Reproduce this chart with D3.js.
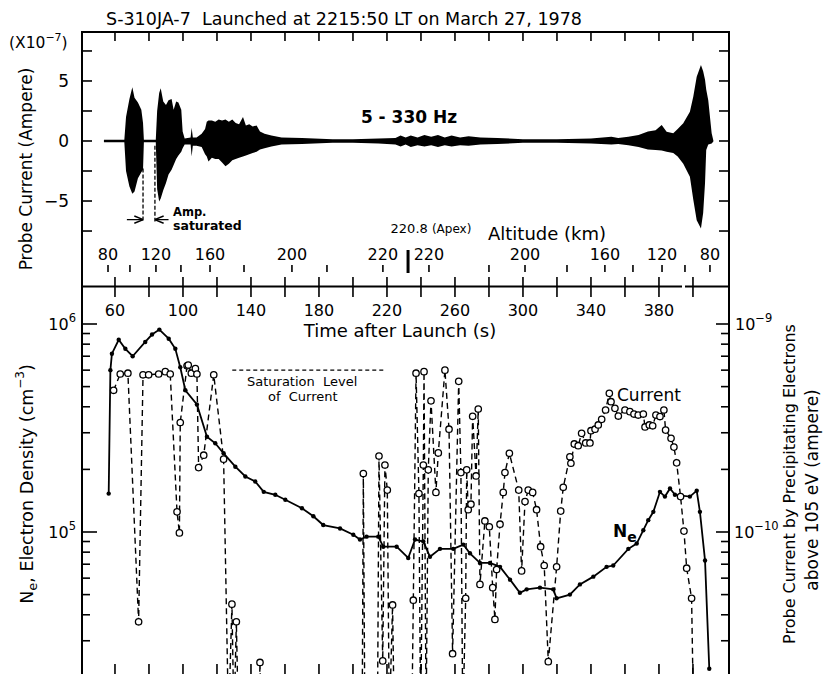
<!DOCTYPE html>
<html>
<head>
<meta charset="utf-8">
<script src="https://cdn.jsdelivr.net/npm/d3@7"></script>
<style>
body { margin: 0; background: #fff; }
text { font-family: "DejaVu Sans", "Liberation Sans", sans-serif; fill: #000; white-space: pre; }
</style>
</head>
<body>
<script>
const width = 823;
const height = 674;

// top panel: envelope of the 5-330 Hz probe current, in units of 1e-7 A
const waveT = [53.5, 65.5, 66.5, 68.5, 70.2, 71.5, 73.5, 75.5, 76.5, 77.0, 84.0, 84.8, 86.0, 86.9, 88.4, 90.0,
  91.5, 93.3, 94.5, 96.0, 97.3, 99.0, 99.8, 101.0, 104.5, 105.1, 105.8, 108.0, 111.0, 113.0, 114.0, 115.0,
  117.0, 119.0, 121.0, 123.0, 125.0, 127.0, 129.0, 131.0, 133.0, 135.3, 137.0, 139.0, 141.0, 143.3, 145.3,
  148.0, 152.0, 158.0, 170.0, 188.0, 200.0, 215.0, 225.0, 228.0, 231.0, 234.0, 238.0, 242.0, 246.0, 250.0,
  254.0, 258.0, 263.0, 268.0, 275.0, 285.0, 300.0, 320.0, 340.0, 352.0, 356.0, 362.0, 368.0, 373.5, 378.0,
  381.6, 384.5, 388.4, 391.0, 394.3, 398.2, 400.2, 402.2, 404.7, 406.0, 407.1, 407.8, 409.0, 411.0, 412.0];
const waveUp = [0.1, 0.1, 2.0, 3.5, 4.47, 3.6, 3.2, 2.6, 1.5, 0.1, 0.1, 2.5, 4.0, 4.39, 3.3, 3.0,
  3.4, 3.5, 2.6, 3.3, 3.2, 2.6, 0.8, 0.2, 0.3, 1.1, 0.3, 0.3, 0.6, 1.0, 1.6, 1.7,
  1.7, 1.6, 1.8, 1.7, 1.8, 1.6, 1.8, 1.5, 1.4, 2.0, 1.3, 1.4, 1.2, 1.3, 0.8,
  0.6, 0.45, 0.3, 0.25, 0.15, 0.15, 0.2, 0.25, 0.45, 0.3, 0.45, 0.3, 0.5, 0.35, 0.5,
  0.3, 0.45, 0.3, 0.4, 0.3, 0.25, 0.15, 0.15, 0.2, 0.35, 0.25, 0.35, 0.5, 0.8, 0.9,
  1.33, 0.78, 0.64, 1.0, 1.47, 2.44, 3.7, 5.36, 6.33, 5.8, 5.1, 4.3, 3.4, 0.65, 0.05];
const waveLo = [-0.1, -0.1, -2.5, -3.8, -4.4, -4.2, -3.1, -2.6, -2.4, -0.1, -0.1, -4.0, -5.05, -4.8, -4.1, -3.5,
  -2.8, -2.4, -2.0, -1.5, -1.2, -0.9, -0.6, -0.3, -0.3, -1.3, -0.4, -0.4, -0.5, -1.1, -1.3, -1.7,
  -1.4, -1.5, -1.5, -1.8, -2.1, -1.9, -1.6, -1.5, -1.4, -1.3, -1.2, -1.1, -1.0, -0.9, -0.7,
  -0.6, -0.45, -0.3, -0.25, -0.15, -0.15, -0.2, -0.3, -0.45, -0.3, -0.5, -0.35, -0.45, -0.35, -0.5,
  -0.35, -0.45, -0.35, -0.4, -0.3, -0.25, -0.15, -0.15, -0.2, -0.3, -0.25, -0.35, -0.5, -0.7, -0.75,
  -0.8, -0.9, -1.0, -1.3, -1.9, -2.97, -4.9, -6.6, -7.3, -6.0, -3.5, -0.75, -0.3, -0.2, -0.05];

// bottom panel: electron density (cm^-3)
const neT = [56.3, 57.3, 58.2, 62.2, 66.1, 70.4, 77.8, 81.8, 86.1, 91.6, 95.5, 98.4, 101.4, 108.2, 114.1, 119.0,
  123.9, 130.8, 136.7, 142.5, 147.5, 154.3, 160.2, 170.0, 176.7, 182.5, 192.4, 200.2, 204.1, 208.0, 214.9,
  217.8, 225.7, 232.5, 236.5, 241.4, 245.3, 251.2, 259.0, 264.9, 268.8, 274.7, 280.6, 286.5, 292.4, 298.2,
  302.2, 310.0, 317.8, 319.8, 327.6, 333.5, 341.4, 349.2, 353.1, 362.0, 366.9, 370.8, 373.7, 376.7, 380.6,
  383.5, 386.5, 389.4, 398.2, 402.2, 404.1, 407.1, 409.6];
const neVal = [1.53e5, 6.0e5, 7.2e5, 8.4e5, 7.6e5, 7.0e5, 8.2e5, 8.9e5, 9.4e5, 8.5e5, 7.6e5, 6.2e5, 4.8e5, 4.1e5, 2.87e5, 2.67e5,
  2.39e5, 2.06e5, 1.85e5, 1.75e5, 1.56e5, 1.51e5, 1.43e5, 1.30e5, 1.19e5, 1.08e5, 1.04e5, 9.7e4, 9.2e4, 9.5e4, 9.5e4,
  8.5e4, 8.5e4, 7.5e4, 9.2e4, 9.0e4, 7.6e4, 8.3e4, 8.3e4, 8.7e4, 7.9e4, 7.1e4, 7.1e4, 6.8e4, 5.9e4, 5.1e4,
  5.3e4, 5.4e4, 5.3e4, 4.8e4, 5.0e4, 5.6e4, 6.1e4, 6.8e4, 6.9e4, 8.3e4, 8.8e4, 1.02e5, 1.14e5, 1.25e5, 1.56e5,
  1.48e5, 1.62e5, 1.51e5, 1.48e5, 1.58e5, 1.25e5, 7.3e4, 2.2e4];

// bottom panel: probe current by precipitating electrons above 105 eV (A); 1.2e-11 = below the frame
const curT = [59.2, 63.1, 67.6, 73.9, 76.5, 79.8, 85.7, 89.6, 92.5, 96.5, 97.9, 98.4, 102.4, 103.1, 104.9, 107.3,
  108.2, 109.2, 112.2, 118.1, 123.9, 126.8, 128.8, 130.0, 131.4, 132.6, 144.6, 145.3, 146.0, 205.4, 206.1,
  207.0, 214.4, 215.3, 217.5, 218.8, 220.2, 221.4, 223.3, 224.3, 234.6, 235.5, 237.1, 238.8, 239.8, 241.4,
  241.8, 243.0, 244.3, 245.9, 248.8, 250.2, 254.1, 256.5, 258.6, 262.2, 263.5, 264.6, 266.3, 266.9, 267.8,
  269.4, 270.4, 272.4, 273.7, 274.7, 277.6, 280.2, 282.2, 283.5, 284.5, 286.5, 288.4, 289.4, 292.0, 297.5,
  299.2, 301.2, 303.1, 305.7, 308.0, 310.4, 312.5, 314.9, 319.8, 322.2, 323.7, 327.6, 328.2, 330.2, 332.5,
  334.5, 336.9, 339.4, 340.0, 342.4, 344.3, 346.3, 348.6, 350.8, 351.8, 354.1, 356.1, 360.0, 362.9, 365.3,
  367.8, 370.8, 371.8, 374.3, 376.3, 378.2, 380.6, 382.9, 383.9, 387.1, 388.8, 390.4, 392.7, 394.7, 396.3,
  399.2, 400.4];
const curVal = [4.8e-10, 5.75e-10, 5.8e-10, 3.7e-11, 5.7e-10, 5.7e-10, 5.75e-10, 5.9e-10, 5.75e-10, 1.25e-10, 9.9e-11, 3.36e-10, 6.3e-10, 6.35e-10, 5.8e-10, 6.1e-10,
  5.75e-10, 2.04e-10, 2.34e-10, 5.7e-10, 2.24e-10, 1.2e-11, 4.5e-11, 1.2e-11, 3.7e-11, 1.2e-11, 1.2e-11, 2.36e-11, 1.2e-11, 1.2e-11, 1.91e-10,
  1.2e-11, 1.2e-11, 2.32e-10, 2.4e-11, 2.1e-10, 1.59e-10, 1.2e-11, 4.46e-11, 1.2e-11, 1.2e-11, 4.7e-11, 5.8e-10, 1.53e-10, 1.2e-11, 2.1e-10,
  5.9e-10, 1.2e-11, 1.99e-10, 4.27e-10, 1.55e-10, 2.4e-10, 6.0e-10, 3.12e-10, 2.6e-11, 5.3e-10, 1.93e-10, 1.2e-11, 4.8e-11, 1.99e-10, 1.28e-10,
  1.36e-10, 3.6e-10, 1.86e-10, 3.9e-10, 5.6e-11, 1.13e-10, 1.06e-10, 5.4e-11, 3.8e-11, 6.6e-11, 1.09e-10, 1.55e-10, 1.93e-10, 2.39e-10, 1.59e-10,
  6.5e-11, 1.4e-10, 1.59e-10, 1.55e-10, 1.28e-10, 8.5e-11, 6.9e-11, 2.38e-11, 6.8e-11, 1.26e-10, 1.64e-10, 2.3e-10, 2.14e-10, 2.65e-10, 2.6e-10,
  2.98e-10, 2.68e-10, 2.68e-10, 3.07e-10, 3.12e-10, 3.27e-10, 3.48e-10, 3.86e-10, 4.64e-10, 4.23e-10, 3.93e-10, 3.61e-10, 3.86e-10, 3.79e-10, 3.69e-10,
  3.65e-10, 3.69e-10, 3.2e-10, 3.27e-10, 3.24e-10, 3.65e-10, 3.59e-10, 3.86e-10, 3.09e-10, 2.82e-10, 2.56e-10, 2.15e-10, 1.48e-10, 1.01e-10, 6.7e-11,
  4.8e-11, 1.2e-11];

const satLevel = 6e-10;
const satRange = [129, 218];

const timeTicks = d3.range(60, 401, 20);
const timeLabels = [60, 100, 140, 180, 220, 260, 300, 340, 380];
const altTickT = [55.9, 68.8, 84.1, 98.8, 115.9, 135.9, 164.1, 184.7, 217.6, 244.7, 280.0, 301.2, 325.9, 348.2, 364.7, 381.8, 395.3, 410.0];
const altTickKm = [80, 100, 120, 140, 160, 180, 200, 210, 220, 220, 210, 200, 180, 160, 140, 120, 100, 80];
const altLabelKm = [80, 120, 160, 200, 220];
const apexT = 232.4;
const topTicks = [7.5, 5, 2.5, 0, -2.5, -5, -7.5];
const topLabels = [5, 0, -5];
const ampLineT = [76.5, 83.5];
const ampLineTop = [-2.3, -0.4];

const svg = d3.select("body").append("svg")
  .attr("width", width)
  .attr("height", height);

const x = d3.scaleLinear().domain([40.6, 421.2]).range([82, 729]);
const yTop = d3.scaleLinear().domain([-12.08, 9.08]).range([286, 32]);
const yNe = d3.scaleLog().domain([Math.pow(10, 4.3173), Math.pow(10, 6.1827)]).range([674, 286]);
const yCur = d3.scaleLog().domain([Math.pow(10, -10.6827), Math.pow(10, -8.8173)]).range([674, 286]);

const defs = svg.append("defs");
defs.append("clipPath").attr("id", "clipTop")
  .append("rect").attr("x", 82).attr("y", 32).attr("width", 647).attr("height", 254);
defs.append("clipPath").attr("id", "clipBot")
  .append("rect").attr("x", 82).attr("y", 287).attr("width", 647).attr("height", 387);
defs.append("marker").attr("id", "arr").attr("viewBox", "0 0 10 10")
  .attr("refX", 9).attr("refY", 5).attr("markerWidth", 7).attr("markerHeight", 7)
  .attr("orient", "auto")
  .append("path").attr("d", "M0,1 L10,5 L0,9").attr("fill", "none").attr("stroke", "#000").attr("stroke-width", 1.6);

// ---- waveform
const waveData = waveT.map((t, i) => ({t: t, up: waveUp[i], lo: waveLo[i]}));
svg.append("path")
  .datum(waveData)
  .attr("clip-path", "url(#clipTop)")
  .attr("d", d3.area().x(d => x(d.t)).y0(d => yTop(d.lo)).y1(d => yTop(d.up)))
  .attr("fill", "#000");

// amp saturated markers
ampLineT.forEach((t, i) => {
  svg.append("line")
    .attr("x1", x(t)).attr("x2", x(t))
    .attr("y1", yTop(ampLineTop[i])).attr("y2", yTop(-6.7))
    .attr("stroke", "#000").attr("stroke-width", 1.3).attr("stroke-dasharray", "4,2");
});
svg.append("line").attr("x1", x(67)).attr("x2", x(76.2))
  .attr("y1", yTop(-6.55)).attr("y2", yTop(-6.55))
  .attr("stroke", "#000").attr("stroke-width", 1.3).attr("marker-end", "url(#arr)");
svg.append("line").attr("x1", x(91.5)).attr("x2", x(83.8))
  .attr("y1", yTop(-6.55)).attr("y2", yTop(-6.55))
  .attr("stroke", "#000").attr("stroke-width", 1.3).attr("marker-end", "url(#arr)");
svg.append("text").attr("x", 173).attr("y", 216).text("Amp.")
  .style("font-size", "11.5px").style("font-weight", "bold");
svg.append("text").attr("x", 173).attr("y", 230).text("saturated")
  .style("font-size", "12.5px").style("font-weight", "bold");

svg.append("text").attr("x", 409).attr("y", 123).attr("text-anchor", "middle")
  .text("5 - 330 Hz").style("font-size", "17px").style("font-weight", "bold");

// ---- frame
const frame = svg.append("g").attr("stroke", "#000").attr("stroke-width", 2);
frame.append("line").attr("x1", 82).attr("x2", 82).attr("y1", 31).attr("y2", 674);
frame.append("line").attr("x1", 729).attr("x2", 729).attr("y1", 31).attr("y2", 674);
frame.append("line").attr("x1", 81).attr("x2", 730).attr("y1", 32).attr("y2", 32);
frame.append("line").attr("x1", 82).attr("x2", 682).attr("y1", 286.5).attr("y2", 286.5);
frame.append("line").attr("x1", 685).attr("x2", 729).attr("y1", 286.5).attr("y2", 286.5);

const ticks = svg.append("g").attr("stroke", "#000").attr("stroke-width", 1.6);
timeTicks.forEach(t => {
  ticks.append("line").attr("x1", x(t)).attr("x2", x(t)).attr("y1", 32).attr("y2", 41);
  ticks.append("line").attr("x1", x(t)).attr("x2", x(t)).attr("y1", 277).attr("y2", 297);
  ticks.append("line").attr("x1", x(t)).attr("x2", x(t)).attr("y1", 664).attr("y2", 674);
});
altTickT.forEach(t => {
  ticks.append("line").attr("x1", x(t)).attr("x2", x(t)).attr("y1", 265).attr("y2", 272);
});
topTicks.forEach(v => {
  ticks.append("line").attr("x1", 82).attr("x2", 92).attr("y1", yTop(v)).attr("y2", yTop(v));
  ticks.append("line").attr("x1", 719).attr("x2", 729).attr("y1", yTop(v)).attr("y2", yTop(v));
});
yNe.ticks().forEach(v => {
  const major = Math.abs(Math.log10(v) - Math.round(Math.log10(v))) < 1e-6;
  const yy = yNe(v);
  if (yy < 288) return;
  ticks.append("line").attr("x1", 82).attr("x2", major ? 97 : 90).attr("y1", yy).attr("y2", yy);
  ticks.append("line").attr("x1", major ? 716 : 721).attr("x2", 729).attr("y1", yy).attr("y2", yy);
});
svg.append("line").attr("x1", x(apexT)).attr("x2", x(apexT)).attr("y1", 250).attr("y2", 273)
  .attr("stroke", "#000").attr("stroke-width", 3);

// ---- axis labels
svg.append("text").attr("x", 344).attr("y", 25).attr("text-anchor", "middle")
  .text("S-310JA-7\u00a0 Launched at 2215:50 LT on March 27, 1978").style("font-size", "17.5px");

const tl = svg.append("text").attr("x", 9).attr("y", 48).style("font-size", "15.5px");
tl.append("tspan").text("(X10");
tl.append("tspan").attr("dy", -7).style("font-size", "11px").text("\u22127");
tl.append("tspan").attr("dy", 7).text(")");

topLabels.forEach(v => {
  svg.append("text").attr("x", 69).attr("y", yTop(v) + 6).attr("text-anchor", "end")
    .text(v < 0 ? "\u2212" + Math.abs(v) : v).style("font-size", "17px");
});

svg.append("text")
  .attr("transform", "translate(26,169) rotate(-90)")
  .attr("text-anchor", "middle").attr("dominant-baseline", "central")
  .text("Probe Current (Ampere)").style("font-size", "17px");

altTickT.forEach((t, i) => {
  if (!altLabelKm.includes(altTickKm[i])) return;
  svg.append("text").attr("x", x(t)).attr("y", 260).attr("text-anchor", "middle")
    .text(altTickKm[i]).style("font-size", "16px");
});
const apexLab = svg.append("text").attr("x", 431).attr("y", 233).attr("text-anchor", "middle");
apexLab.append("tspan").text("220.8 ").style("font-size", "13px");
apexLab.append("tspan").text("(Apex)").style("font-size", "12px");
svg.append("text").attr("x", 547).attr("y", 240).attr("text-anchor", "middle")
  .text("Altitude (km)").style("font-size", "18px");

timeLabels.forEach(t => {
  svg.append("text").attr("x", x(t)).attr("y", 316).attr("text-anchor", "middle")
    .text(t).style("font-size", "16px");
});
svg.append("text").attr("x", 400).attr("y", 337).attr("text-anchor", "middle")
  .text("Time after Launch (s)").style("font-size", "18px");

function powLabel(px, py, base, exp, anchor) {
  const t = svg.append("text").attr("x", px).attr("y", py).attr("text-anchor", anchor).style("font-size", "16px");
  t.append("tspan").text(base);
  t.append("tspan").attr("dy", -8).style("font-size", "11.5px").text(exp);
  return t;
}
powLabel(76, yNe(1e6) + 6, "10", "6", "end");
powLabel(76, yNe(1e5) + 6, "10", "5", "end");
powLabel(735, yCur(1e-9) + 6, "10", "\u22129", "start");
powLabel(734, yCur(1e-10) + 6, "10", "\u221210", "start");

const nl = svg.append("text")
  .attr("transform", "translate(27,484) rotate(-90)")
  .attr("text-anchor", "middle").attr("dominant-baseline", "central")
  .style("font-size", "17.5px");
nl.append("tspan").text("N");
nl.append("tspan").attr("dy", 5).style("font-size", "13px").text("e");
nl.append("tspan").attr("dy", -5).text(", Electron Density (cm");
nl.append("tspan").attr("dy", -7).style("font-size", "12px").text("\u22123");
nl.append("tspan").attr("dy", 7).text(")");

svg.append("text")
  .attr("transform", "translate(789,484) rotate(-90)")
  .attr("text-anchor", "middle").attr("dominant-baseline", "central")
  .text("Probe Current by Precipitating Electrons").style("font-size", "16px");
svg.append("text")
  .attr("transform", "translate(812,490) rotate(-90)")
  .attr("text-anchor", "middle").attr("dominant-baseline", "central")
  .text("above 105 eV (ampere)").style("font-size", "17px");

// ---- bottom panel series
const plot = svg.append("g").attr("clip-path", "url(#clipBot)");

plot.append("line")
  .attr("x1", x(satRange[0])).attr("x2", x(satRange[1]))
  .attr("y1", yCur(satLevel)).attr("y2", yCur(satLevel))
  .attr("stroke", "#000").attr("stroke-width", 1.2).attr("stroke-dasharray", "4,3");
svg.append("text").attr("x", 247).attr("y", 386).text("Saturation\u00a0 Level").style("font-size", "13px");
svg.append("text").attr("x", 268).attr("y", 401).text("of\u00a0 Current").style("font-size", "13px");

const curData = curT.map((t, i) => ({t: t, v: curVal[i]}));
plot.append("path")
  .datum(curData)
  .attr("d", d3.line().x(d => x(d.t)).y(d => yCur(d.v)))
  .attr("fill", "none").attr("stroke", "#000").attr("stroke-width", 1.4)
  .attr("stroke-dasharray", "6,4");

const neData = neT.map((t, i) => ({t: t, v: neVal[i]}));
plot.append("path")
  .datum(neData)
  .attr("d", d3.line().x(d => x(d.t)).y(d => yNe(d.v)))
  .attr("fill", "none").attr("stroke", "#000").attr("stroke-width", 1.8);

plot.selectAll("circle.ne")
  .data(neData)
  .enter().append("circle")
  .attr("class", "ne")
  .attr("cx", d => x(d.t))
  .attr("cy", d => yNe(d.v))
  .attr("r", 2.2)
  .attr("fill", "#000");

plot.selectAll("circle.cur")
  .data(curData.filter(d => d.v > 1.5e-11))
  .enter().append("circle")
  .attr("class", "cur")
  .attr("cx", d => x(d.t))
  .attr("cy", d => yCur(d.v))
  .attr("r", 3.2)
  .attr("fill", "#fff")
  .attr("stroke", "#000")
  .attr("stroke-width", 1.3);

svg.append("text").attr("x", 617).attr("y", 401).text("Current").style("font-size", "17px");
const ne = svg.append("text").attr("x", 613).attr("y", 537).style("font-size", "17px").style("font-weight", "bold");
ne.append("tspan").text("N");
ne.append("tspan").attr("dy", 5).style("font-size", "14px").text("e");
</script>
</body>
</html>
